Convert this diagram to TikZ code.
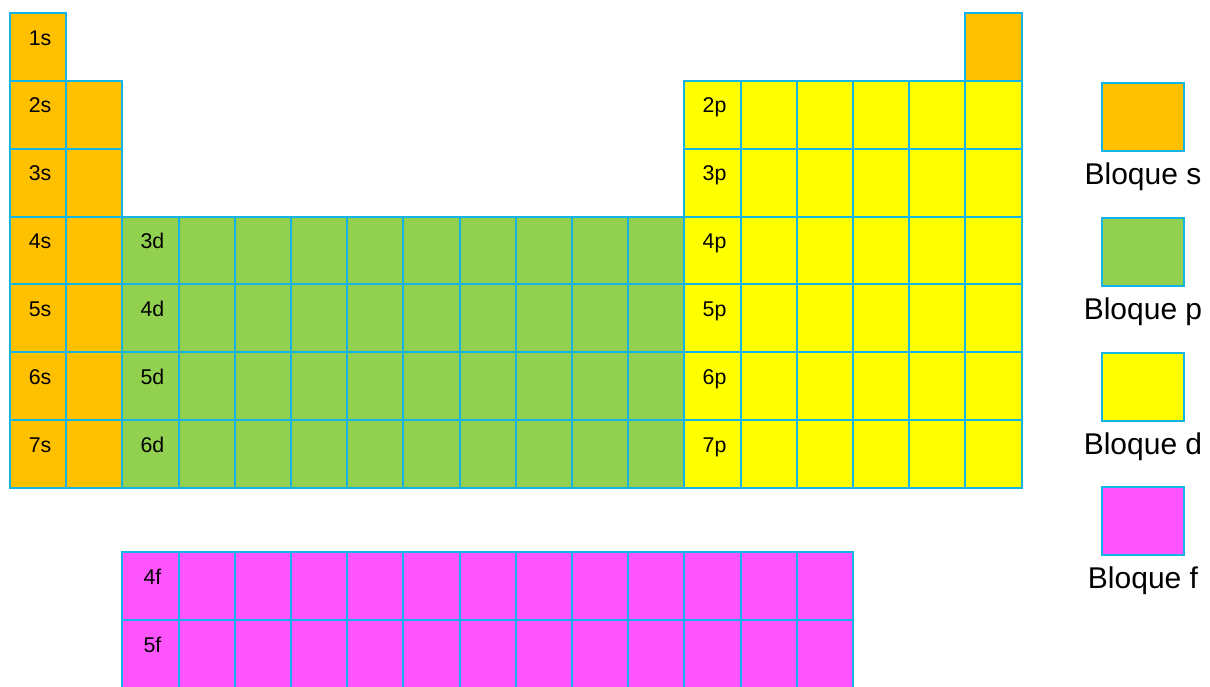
\documentclass[tikz,border=0pt]{standalone}
\usepackage{fontspec}
\setmainfont{Liberation Sans}
\usepackage{tikz}
\usetikzlibrary{positioning}
\definecolor{SBlock}{RGB}{255, 192, 0}
\definecolor{DBlock}{RGB}{146, 208, 80}
\definecolor{PBlock}{RGB}{255, 255, 0}
\definecolor{FBlock}{RGB}{255, 85, 255}
\definecolor{CellBorder}{RGB}{20, 180, 230}

\begin{document}
\begin{tikzpicture}[
    x=0.75pt, y=-0.75pt,
    cell/.style={draw=CellBorder, line width=1.5pt, rectangle, minimum width=42.15pt, minimum height=50.9pt, inner sep=0pt, outer sep=0pt, anchor=north west},
    lbl/.style={font=\fontsize{16}{19}\selectfont, inner sep=0pt, anchor=base, yshift=-24pt, xshift=1.5pt},
    keybox/.style={draw=CellBorder, line width=1.5pt, rectangle, minimum width=61.5pt, minimum height=51pt, inner sep=0pt},
    keytext/.style={font=\fontsize{22.5}{26}\selectfont, inner sep=0pt}
]
\useasboundingbox (0,0) rectangle (1210,686);

% s block
\foreach \r in {1,...,7} {
  \node[cell, fill=SBlock] (c-\r-1) at (10, {13+(\r-1)*67.86}) {};
  \node[lbl] at (c-\r-1.north) {\r s};
}
\foreach \r in {2,...,7}
  \node[cell, fill=SBlock] (c-\r-2) at (66.2, {13+(\r-1)*67.86}) {};
\node[cell, fill=SBlock] (c-1-18) at (965.4, 13) {};

% d block
\foreach \r [evaluate=\r as \n using {int(\r-1)}] in {4,...,7} {
  \foreach \c in {3,...,12}
    \node[cell, fill=DBlock] (c-\r-\c) at ({10+(\c-1)*56.2}, {13+(\r-1)*67.86}) {};
  \node[lbl] at (c-\r-3.north) {\n d};
}

% p block
\foreach \r in {2,...,7} {
  \foreach \c in {13,...,18}
    \node[cell, fill=PBlock] (c-\r-\c) at ({10+(\c-1)*56.2}, {13+(\r-1)*67.86}) {};
  \node[lbl] at (c-\r-13.north) {\r p};
}

% f block
\foreach \r [evaluate=\r as \y using {552+(\r-4)*68}] in {4,5} {
  \foreach \c in {3,...,15}
    \node[cell, fill=FBlock] (f-\r-\c) at ({10+(\c-1)*56.2}, \y) {};
  \node[lbl] at (f-\r-3.north) {\r f};
}

% legend
\node[keybox, fill=SBlock] (keyS) at (1143, 117) {};
\node[keytext, below=7.5pt of keyS] {Bloque s};
\node[keybox, fill=DBlock] (keyP) at (1143, 252) {};
\node[keytext, below=7.5pt of keyP] {Bloque p};
\node[keybox, fill=PBlock] (keyD) at (1143, 387) {};
\node[keytext, below=7.5pt of keyD] {Bloque d};
\node[keybox, fill=FBlock] (keyF) at (1143, 521) {};
\node[keytext, below=7.5pt of keyF] {Bloque f};

\end{tikzpicture}
\end{document}
